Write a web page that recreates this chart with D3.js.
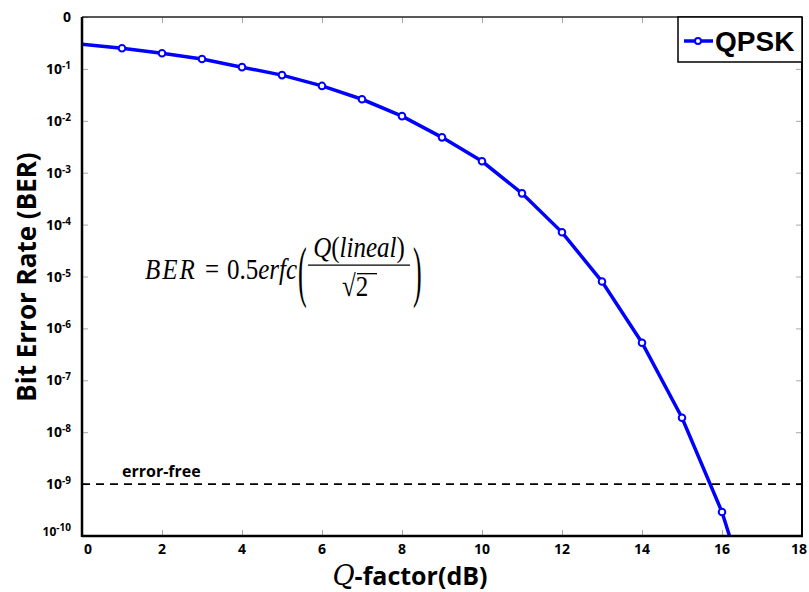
<!DOCTYPE html>
<html>
<head>
<meta charset="utf-8">
<script src="https://cdn.jsdelivr.net/npm/d3@7"></script>
<style>
body { margin: 0; background: #fff; }
</style>
</head>
<body>
<div id="chart"></div>
<script>
// Q-factor (dB) and the BER
var qFactor = [0, 1, 2, 3, 4, 5, 6, 7, 8, 9, 10, 11, 12, 13, 14, 15, 16, 17];
var berQPSK = [0.30, 0.25, 0.20, 0.155, 0.108, 0.076, 0.047, 0.026, 0.0123, 0.0048,
               0.00166, 4.0e-4, 7.1e-5, 8.0e-6, 5.3e-7, 1.9e-8, 2.9e-10, 1.0e-12];
var xTicks = [0, 2, 4, 6, 8, 10, 12, 14, 16, 18];
var yExponents = [0, -1, -2, -3, -4, -5, -6, -7, -8, -9, -10];
var errorFree = 1e-9;

var width = 809, height = 592;
var plotLeft = 82, plotRight = 802, plotTop = 17, plotBottom = 536;
var sans = "'Open Sans', 'DejaVu Sans', sans-serif";
var serif = "'Liberation Serif', 'Times New Roman', serif";

var svg = d3.select("#chart").append("svg")
    .attr("width", width)
    .attr("height", height)
    .style("font-family", sans);

var x = d3.scaleLinear().domain([0, 18]).range([plotLeft, plotRight]);
var y = d3.scaleLog().domain([1e-10, 1]).range([plotBottom, plotTop]);

svg.append("defs").append("clipPath").attr("id", "clip")
    .append("rect")
    .attr("x", plotLeft).attr("y", plotTop)
    .attr("width", plotRight - plotLeft).attr("height", plotBottom - plotTop);

// small grey ticks on all four sides
var tickColor = "#a8a8a8";
function greyTicks(g) {
    g.select(".domain").remove();
    g.selectAll("line").attr("stroke", tickColor);
}
var yVals = yExponents.map(function(e) { return Math.pow(10, e); });
svg.append("g")
    .attr("transform", "translate(0," + plotBottom + ")")
    .call(d3.axisTop(x).tickValues(xTicks).tickSize(6).tickFormat(""))
    .call(greyTicks);
svg.append("g")
    .attr("transform", "translate(0," + plotTop + ")")
    .call(d3.axisBottom(x).tickValues(xTicks).tickSize(6).tickFormat(""))
    .call(greyTicks);
svg.append("g")
    .attr("transform", "translate(" + plotLeft + ",0)")
    .call(d3.axisRight(y).tickValues(yVals).tickSize(6).tickFormat(""))
    .call(greyTicks);
svg.append("g")
    .attr("transform", "translate(" + plotRight + ",0)")
    .call(d3.axisLeft(y).tickValues(yVals).tickSize(6).tickFormat(""))
    .call(greyTicks);

// x tick labels
svg.append("g").selectAll("text")
    .data(xTicks)
    .enter()
    .append("text")
    .attr("x", function(d, i) {
        var shift = i === 0 ? 6 : (i === xTicks.length - 1 ? -3 : 0);
        return x(d) + shift;
    })
    .attr("y", plotBottom + 18)
    .attr("text-anchor", "middle")
    .style("font-size", "14px")
    .style("font-weight", "bold")
    .text(function(d) { return d; });

// y tick labels: 0 on top, 10^-n below
var yl = svg.append("g").selectAll("text")
    .data(yExponents)
    .enter()
    .append("text")
    .attr("x", 71)
    .attr("y", function(d) { return y(Math.pow(10, d)) + (d === -10 ? 0 : 5); })
    .attr("text-anchor", "end")
    .style("font-weight", "bold")
    .style("font-size", "14px");
yl.each(function(d) {
    var t = d3.select(this);
    if (d === 0) {
        t.text("0");
    } else {
        t.append("tspan").text("10").style("font-size", d === -10 ? "12px" : "14px");
        t.append("tspan").text(d).style("font-size", "10px").attr("dy", -5);
    }
});

// error-free line
svg.append("line")
    .attr("x1", plotLeft).attr("x2", plotRight)
    .attr("y1", y(errorFree)).attr("y2", y(errorFree))
    .attr("stroke", "#000")
    .attr("stroke-width", 1.8)
    .attr("stroke-dasharray", "8,6");
svg.append("text")
    .attr("x", 122)
    .attr("y", y(errorFree) - 7)
    .style("font-size", "16px")
    .style("font-weight", "bold")
    .text("error-free");

// curve
var pts = qFactor.map(function(q, i) { return [q, berQPSK[i]]; });
var plot = svg.append("g").attr("clip-path", "url(#clip)");
plot.append("path")
    .datum(pts)
    .attr("fill", "none")
    .attr("stroke", "#0000ff")
    .attr("stroke-width", 3.5)
    .attr("d", d3.line()
        .x(function(d) { return x(d[0]); })
        .y(function(d) { return y(d[1]); }));
plot.selectAll("circle")
    .data(pts.slice(1))
    .enter()
    .append("circle")
    .attr("cx", function(d) { return x(d[0]); })
    .attr("cy", function(d) { return y(d[1]); })
    .attr("r", 3.3)
    .attr("fill", "#fff")
    .attr("stroke", "#0000ff")
    .attr("stroke-width", 2);

// frame
svg.append("line").attr("x1", plotLeft).attr("x2", plotRight).attr("y1", plotTop).attr("y2", plotTop)
    .attr("stroke", "#222").attr("stroke-width", 1.5);
svg.append("line").attr("x1", plotRight).attr("x2", plotRight).attr("y1", plotTop).attr("y2", plotBottom)
    .attr("stroke", "#000").attr("stroke-width", 2);
svg.append("line").attr("x1", plotLeft).attr("x2", plotLeft).attr("y1", plotTop).attr("y2", plotBottom + 1)
    .attr("stroke", "#000").attr("stroke-width", 2.5);
svg.append("line").attr("x1", plotLeft).attr("x2", plotRight + 1).attr("y1", plotBottom).attr("y2", plotBottom)
    .attr("stroke", "#000").attr("stroke-width", 2.5);

// legend
var leg = svg.append("g");
leg.append("rect")
    .attr("x", 678).attr("y", plotTop)
    .attr("width", plotRight - 678).attr("height", 45)
    .attr("fill", "#fff").attr("stroke", "#000").attr("stroke-width", 1.5);
leg.append("line")
    .attr("x1", 684).attr("x2", 713).attr("y1", 41).attr("y2", 41)
    .attr("stroke", "#0000ff").attr("stroke-width", 3.5);
leg.append("circle")
    .attr("cx", 698).attr("cy", 41).attr("r", 3)
    .attr("fill", "#fff").attr("stroke", "#0000ff").attr("stroke-width", 2);
leg.append("text")
    .attr("x", 715).attr("y", 51)
    .style("font-family", "'Liberation Sans', Arial, sans-serif")
    .style("font-size", "28px")
    .style("font-weight", "bold")
    .text("QPSK");

// axis titles
svg.append("text")
    .attr("transform", "translate(36,277) rotate(-90)")
    .attr("text-anchor", "middle")
    .style("font-size", "26px")
    .style("font-weight", "bold")
    .text("Bit Error Rate (BER)");
var xt = svg.append("text")
    .attr("x", 410)
    .attr("y", 585)
    .attr("text-anchor", "middle")
    .style("font-size", "25px")
    .style("font-weight", "bold");
xt.append("tspan").text("Q")
    .style("font-family", "'DejaVu Serif', serif")
    .style("font-style", "italic")
    .style("font-weight", "normal")
    .style("font-size", "27px");
xt.append("tspan").text("-factor(dB)");

// formula (glyphs are a bit taller than wide in the reference)
var f = svg.append("g")
    .attr("transform", "translate(0,270) scale(1,1.22) translate(0,-270)")
    .style("font-family", serif)
    .style("font-size", "25px");
f.append("text").attr("x", 145).attr("y", 277).style("font-style", "italic")
    .style("letter-spacing", "2px").text("BER");
f.append("text").attr("x", 205).attr("y", 277).text("=");
var rhs = f.append("text").attr("x", 227).attr("y", 277);
rhs.append("tspan").text("0.5");
rhs.append("tspan").style("font-style", "italic").text("erfc");
f.append("text").attr("transform", "translate(298,290) scale(1,2.1)")
    .style("font-size", "26px").text("(");
f.append("text").attr("transform", "translate(413,290) scale(1,2.1)")
    .style("font-size", "26px").text(")");
var num = f.append("text").attr("x", 359).attr("y", 259).attr("text-anchor", "middle");
num.append("tspan").style("font-style", "italic").text("Q");
num.append("tspan").text("(");
num.append("tspan").style("font-style", "italic").text("lineal");
num.append("tspan").text(")");
f.append("line").attr("x1", 308).attr("x2", 410).attr("y1", 266).attr("y2", 266)
    .attr("stroke", "#000").attr("stroke-width", 1.1);
f.append("text").attr("x", 342).attr("y", 291).text("\u221A2");
f.append("line").attr("x1", 357).attr("x2", 377).attr("y1", 273).attr("y2", 273)
    .attr("stroke", "#000").attr("stroke-width", 1.1);
</script>
</body>
</html>
